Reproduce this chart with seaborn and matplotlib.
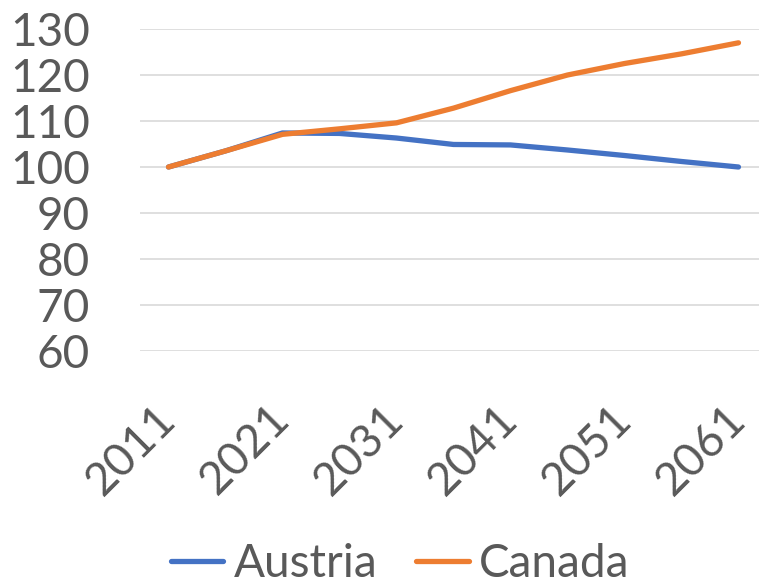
import pandas as pd
import seaborn as sns
import matplotlib.pyplot as plt

# --------------------------------------------------
# DATA (index, 2011 = 100)
# --------------------------------------------------
years = [2011, 2016, 2021, 2026, 2031, 2036, 2041, 2046, 2051, 2056, 2061]
austria = [100, 103.5, 107.4, 107.3, 106.3, 104.9, 104.8, 103.7, 102.5, 101.2, 100.0]
canada = [100, 103.5, 107.1, 108.3, 109.6, 112.8, 116.6, 120.0, 122.5, 124.6, 127.0]
tick_years = [2011, 2021, 2031, 2041, 2051, 2061]
y_ticks = [60, 70, 80, 90, 100, 110, 120, 130]

df = pd.DataFrame({
    "year": years * 2,
    "value": austria + canada,
    "country": ["Austria"] * len(years) + ["Canada"] * len(years),
})

# --------------------------------------------------
# STYLE
# --------------------------------------------------
sns.set_theme(style="white")
plt.rcParams["font.family"] = ["Lato", "DejaVu Sans"]
text_color = "#595959"
palette = {"Austria": "#4472C4", "Canada": "#ED7D31"}

fig = plt.figure(figsize=(7.59, 5.85), dpi=100)
ax = fig.add_axes([140 / 759, 0.40, 1 - 140 / 759, 0.9504 - 0.40])

sns.lineplot(data=df, x="year", y="value", hue="country", palette=palette,
             linewidth=3.8, ax=ax, solid_capstyle="round")

# --------------------------------------------------
# AXES
# --------------------------------------------------
ax.set_ylim(60, 130)
ax.set_xlim(2008.5, 2062.8)
ax.set_yticks(y_ticks)
ax.set_xticks(tick_years)
ax.set_xticklabels([str(y) for y in tick_years], rotation=45, ha="right",
                   va="center", rotation_mode="anchor")
ax.tick_params(axis="y", length=0, pad=36, labelsize=33, labelcolor=text_color)
ax.tick_params(axis="x", length=0, pad=44, labelsize=33, labelcolor=text_color)
ax.set_xlabel("")
ax.set_ylabel("")
ax.grid(axis="y", color="#D9D9D9", linewidth=1.2)
ax.set_axisbelow(True)
for s in ax.spines.values():
    s.set_visible(False)

# --------------------------------------------------
# LEGEND (bottom)
# --------------------------------------------------
handles, labels = ax.get_legend_handles_labels()
ax.legend_.remove()
fig.legend(handles, labels, loc="center", bbox_to_anchor=(0.527, 0.036),
           ncol=2, frameon=False, fontsize=33, labelcolor=text_color,
           handlelength=1.15, handletextpad=0.22, columnspacing=0.85)

fig.savefig("out.png", dpi=100)
